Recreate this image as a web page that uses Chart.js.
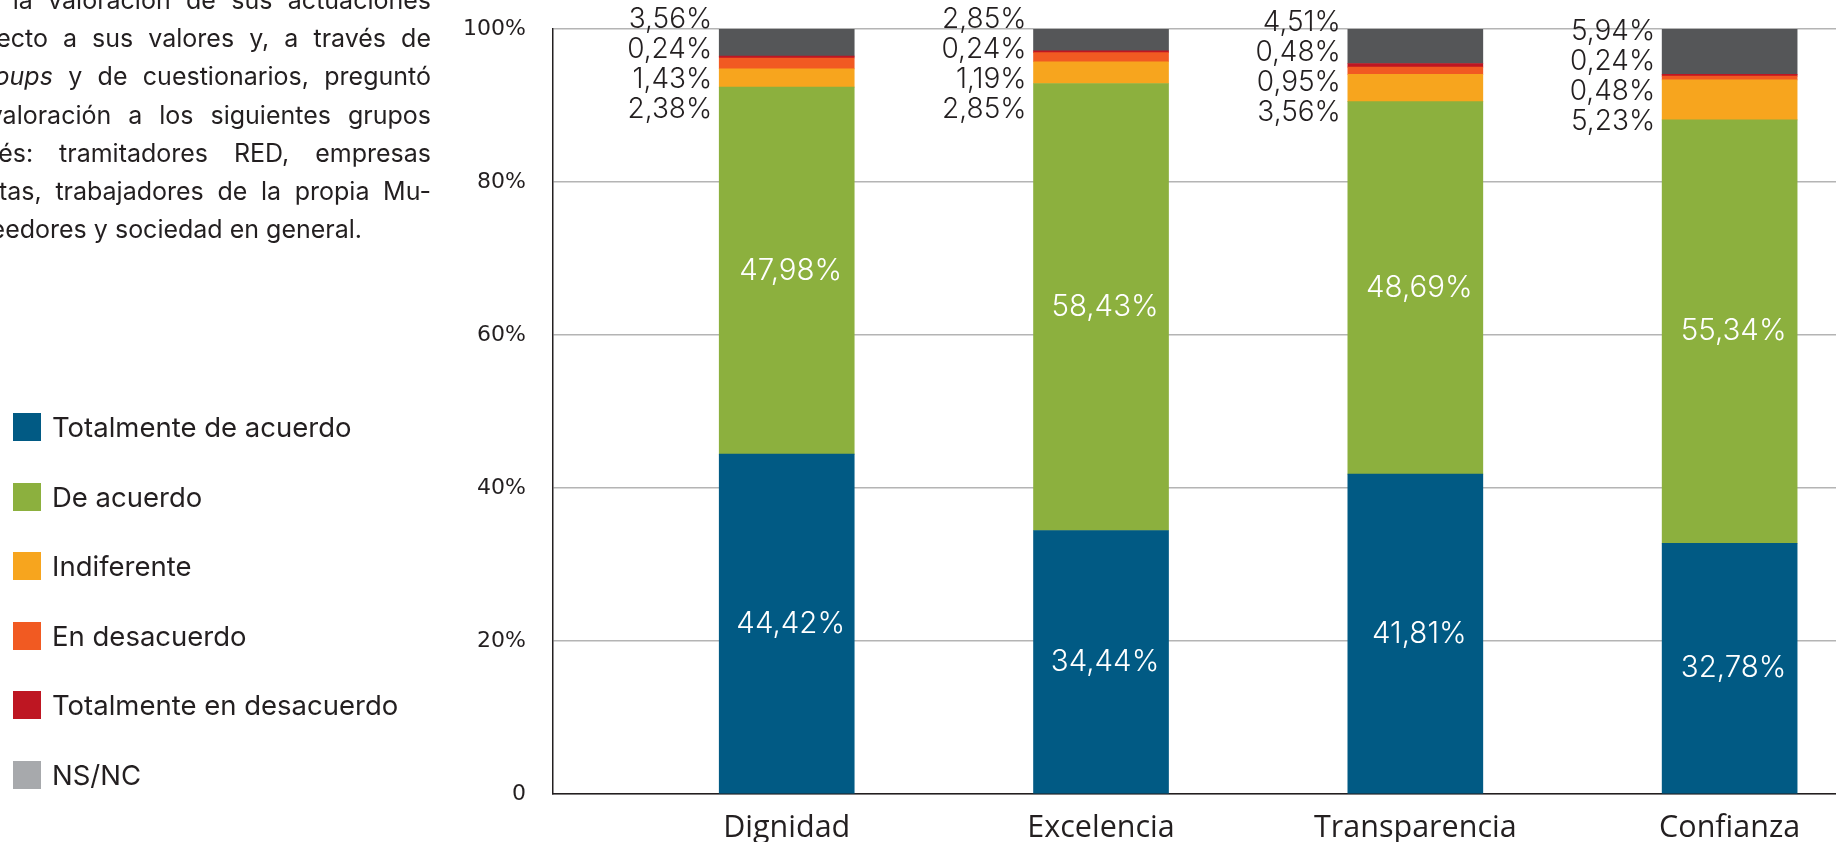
<!DOCTYPE html>
<html lang="es">
<head>
<meta charset="utf-8">
<title>Valoración de los valores</title>
<script src="https://cdn.jsdelivr.net/npm/chart.js@4.4.1/dist/chart.umd.min.js"></script>
<style>
    html, body {
        margin: 0;
        padding: 0;
        background: #ffffff;
        width: 1836px;
        height: 842px;
        overflow: hidden;
    }
    #chartCanvas {
        position: absolute;
        left: 0;
        top: 0;
    }
    .intro {
        position: absolute;
        left: 0;
        top: 0;
        width: 431px;
        height: 260px;
        overflow: hidden;
    }
    .intro-text {
        position: absolute;
        left: -100px;
        top: -19px;
        width: 531px;
        font: 25px Inter, sans-serif;
        line-height: 38.2px;
        color: #231f20;
        text-align: justify;
        text-align-last: justify;
    }
    .intro-text .last {
        text-align-last: left;
    }
    .legend {
        position: absolute;
        left: 13px;
        top: 413px;
    }
    .legend-item {
        display: flex;
        align-items: center;
        height: 28px;
        margin-bottom: 41.6px;
        font: 27.5px Inter, sans-serif;
        color: #231f20;
        white-space: nowrap;
    }
    .legend-box {
        width: 28px;
        height: 28px;
        margin-right: 11px;
        flex: none;
    }
</style>
</head>
<body>
<canvas id="chartCanvas" width="1836" height="842"></canvas>

<div class="intro">
    <div class="intro-text">
        <div>conocer la valoración de sus actuaciones</div>
        <div style="margin-left:-15px">con respecto a sus valores y, a través de</div>
        <div style="margin-left:-11px"><i>focus groups</i> y de cuestionarios, preguntó</div>
        <div style="margin-left:-13px">por su valoración a los siguientes grupos</div>
        <div style="margin-left:-10px">de interés: tramitadores RED, empresas</div>
        <div>mutualistas, trabajadores de la propia Mu-</div>
        <div class="last" style="margin-left:-13px">tua, proveedores y sociedad en general.</div>
    </div>
</div>

<div class="legend" id="legend"></div>

<script>
// ============================================
// Valores - barras apiladas al 100%
// ============================================

const categories = ['Dignidad', 'Excelencia', 'Transparencia', 'Confianza'];

const seriesNames = [
    'Totalmente de acuerdo',
    'De acuerdo',
    'Indiferente',
    'En desacuerdo',
    'Totalmente en desacuerdo',
    'NS/NC'
];

// % por categoría (de abajo a arriba en la barra)
const totalmenteDeAcuerdo = [44.42, 34.44, 41.81, 32.78];
const deAcuerdo = [47.98, 58.43, 48.69, 55.34];
const indiferente = [2.38, 2.85, 3.56, 5.23];
const enDesacuerdo = [1.43, 1.19, 0.95, 0.48];
const totalmenteEnDesacuerdo = [0.24, 0.24, 0.48, 0.24];
const nsnc = [3.56, 2.85, 4.51, 5.94];

const yTicks = [0, 20, 40, 60, 80, 100];

const barColors = ['#015a84', '#8cb03e', '#f7a51e', '#f15a22', '#be1622', '#555658'];
const legendColors = ['#015a84', '#8cb03e', '#f7a51e', '#f15a22', '#be1622', '#a7a9ac'];

const seriesValues = [
    totalmenteDeAcuerdo,
    deAcuerdo,
    indiferente,
    enDesacuerdo,
    totalmenteEnDesacuerdo,
    nsnc
];

const TEXT_COLOR = '#231f20';

function formatPct(v) {
    return v.toFixed(2).replace('.', ',') + '%';
}

// Legend (HTML, a la izquierda)
function buildLegend() {
    const legend = document.getElementById('legend');
    seriesNames.forEach((name, i) => {
        const item = document.createElement('div');
        item.className = 'legend-item';
        const box = document.createElement('span');
        box.className = 'legend-box';
        box.style.background = legendColors[i];
        const label = document.createElement('span');
        label.textContent = name;
        item.appendChild(box);
        item.appendChild(label);
        legend.appendChild(item);
    });
}

// Etiquetas de valor: blancas dentro de las barras grandes,
// oscuras a la izquierda de la barra para los segmentos pequeños
const valueLabelsPlugin = {
    id: 'valueLabels',
    afterDatasetsDraw(chart) {
        const ctx = chart.ctx;
        const area = chart.chartArea;
        ctx.save();

        // segmentos grandes
        ctx.font = '300 29.5px Inter, sans-serif';
        ctx.fillStyle = '#ffffff';
        ctx.textAlign = 'center';
        ctx.textBaseline = 'middle';
        [0, 1].forEach(d => {
            const meta = chart.getDatasetMeta(d);
            meta.data.forEach((bar, i) => {
                const v = seriesValues[d][i];
                ctx.fillText(formatPct(v), bar.x + 4, (bar.y + bar.base) / 2);
            });
        });

        // segmentos pequeños, apilados de arriba a abajo
        const order = [5, 4, 3, 2];
        const step = 30;
        ctx.font = '300 28px Inter, sans-serif';
        ctx.fillStyle = TEXT_COLOR;
        ctx.textAlign = 'right';
        categories.forEach((cat, i) => {
            const bars = order.map(d => chart.getDatasetMeta(d).data[i]);
            const ideal = bars.map(b => (b.y + b.base) / 2);
            const mean = ideal.reduce((a, b) => a + b, 0) / ideal.length;
            let start = mean - step * (order.length - 1) / 2;
            start = Math.max(start, area.top - 9);
            const xRight = bars[0].x - bars[0].width / 2 - 7;
            order.forEach((d, k) => {
                ctx.fillText(formatPct(seriesValues[d][i]), xRight, start + k * step);
            });
        });

        ctx.restore();
    }
};

function renderChart() {
    const canvas = document.getElementById('chartCanvas');
    const ctx = canvas.getContext('2d');

    const datasets = seriesNames.map((name, d) => ({
        label: name,
        data: seriesValues[d].map((v, i) => ({ x: i, y: v })),
        backgroundColor: barColors[d],
        borderWidth: 0,
        barThickness: 135
    }));

    new Chart(ctx, {
        type: 'bar',
        data: { datasets: datasets },
        options: {
            responsive: false,
            animation: false,
            devicePixelRatio: 1,
            layout: {
                padding: { left: 0, right: 0, top: 29, bottom: 0 }
            },
            plugins: {
                legend: { display: false },
                tooltip: { enabled: false }
            },
            scales: {
                x: {
                    type: 'linear',
                    stacked: true,
                    offset: false,
                    min: -0.7436,
                    max: 3.3384,
                    afterBuildTicks: (scale) => {
                        scale.ticks = categories.map((c, i) => ({ value: i }));
                    },
                    afterFit: (scale) => {
                        scale.height = 48;
                    },
                    grid: { display: false, drawTicks: false },
                    border: { display: true, color: TEXT_COLOR, width: 1.5 },
                    ticks: {
                        autoSkip: false,
                        maxRotation: 0,
                        padding: 16,
                        color: TEXT_COLOR,
                        font: { family: '"Open Sans", sans-serif', size: 30.5 },
                        callback: (value) => categories[value] || ''
                    }
                },
                y: {
                    stacked: true,
                    min: 0,
                    max: 100,
                    afterBuildTicks: (scale) => {
                        scale.ticks = yTicks.map(v => ({ value: v }));
                    },
                    afterFit: (scale) => {
                        scale.width = 553;
                        // the tick padding is horizontal only; keep it out of the top/bottom margins
                        scale.paddingTop = 0;
                        scale.paddingBottom = 0;
                    },
                    grid: {
                        color: '#b4b4b4',
                        lineWidth: 1.5,
                        drawTicks: false
                    },
                    border: { display: true, color: TEXT_COLOR, width: 1.5 },
                    ticks: {
                        padding: 27,
                        color: TEXT_COLOR,
                        font: { family: '"DejaVu Sans", sans-serif', size: 22 },
                        callback: (value) => value === 0 ? '0' : value + '%'
                    }
                }
            }
        },
        plugins: [valueLabelsPlugin]
    });
}

buildLegend();
document.fonts.ready.then(renderChart);
</script>
</body>
</html>
